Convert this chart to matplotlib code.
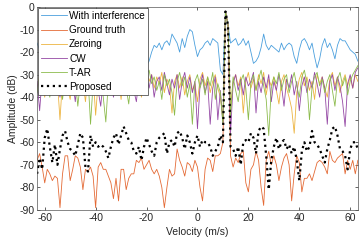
import numpy as np
import matplotlib
matplotlib.use('Agg')
import matplotlib.pyplot as plt

plt.rcParams['font.family'] = ['Liberation Sans', 'DejaVu Sans']
plt.rcParams['font.size'] = 7.5
plt.rcParams['axes.unicode_minus'] = False

# velocity bins (m/s)
velocity = np.arange(-63, 64)

# amplitude (dB) per method, one row = 10 bins
with_interference = [
    -16, -19, -22, -18, -15, -20, -24, -17, -14, -19,
    -21, -16, -18, -23, -15, -13, -19, -22, -17, -16,
    -20, -25, -18, -14, -17, -21, -19, -15, -18, -23,
    -16, -14, -20, -22, -17, -19, -15, -18, -24, -20,
    -16, -19, -23, -26, -24, -20, -17, -18, -16, -19,
    -16, -15, -17, -12, -14, -16, -20, -14, -18, -13,
    -10, -11, -17, -22, -19, -18, -16, -15, -17, -14,
    -15, -16, -28, -30, -2, -8, -16, -15, -14, -17,
    -16, -14, -17, -15, -20, -25, -24, -22, -18, -12,
    -17, -19, -17, -18, -19, -20, -16, -19, -17, -16,
    -17, -22, -25, -19, -15, -14, -16, -19, -16, -22,
    -27, -23, -17, -14, -18, -16, -19, -23, -17, -14,
    -15, -15, -17, -19, -20, -21, -24]
ground_truth = [
    -68, -65, -71, -78, -72, -74, -77, -75, -76, -89,
    -74, -66, -66, -77, -72, -66, -67, -71, -81, -72,
    -73, -71, -75, -89, -71, -69, -72, -72, -75, -78,
    -85, -76, -86, -72, -72, -81, -76, -74, -74, -68,
    -69, -67, -72, -70, -68, -72, -74, -72, -75, -80,
    -89, -80, -72, -75, -74, -63, -68, -71, -75, -69,
    -70, -73, -68, -71, -80, -86, -72, -67, -68, -73,
    -66, -66, -65, -60, -2, -8, -66, -71, -67, -69,
    -65, -64, -78, -82, -72, -70, -64, -68, -80, -88,
    -68, -64, -70, -66, -70, -77, -71, -67, -65, -70,
    -86, -74, -66, -69, -82, -76, -76, -74, -77, -73,
    -69, -68, -69, -71, -74, -64, -68, -69, -67, -66,
    -65, -74, -68, -72, -68, -74, -68]
zeroing = [
    -36, -30, -33, -40, -31, -35, -29, -38, -33, -50,
    -32, -30, -36, -41, -31, -34, -29, -37, -33, -42,
    -31, -35, -30, -48, -33, -29, -36, -31, -39, -33,
    -30, -37, -32, -41, -30, -34, -38, -31, -35, -29,
    -33, -40, -31, -28, -33, -30, -36, -31, -34, -29,
    -38, -32, -35, -47, -33, -30, -36, -31, -39, -33,
    -30, -37, -34, -42, -32, -29, -35, -31, -38, -33,
    -30, -36, -40, -50, -2, -8, -45, -33, -30, -35,
    -31, -47, -33, -29, -36, -32, -37, -30, -34, -29,
    -39, -32, -35, -31, -37, -43, -33, -30, -36, -40,
    -45, -56, -38, -32, -29, -35, -31, -37, -33, -41,
    -30, -34, -31, -36, -40, -32, -29, -35, -31, -38,
    -33, -30, -35, -31, -36, -30, -33]
cw = [
    -33, -46, -31, -35, -30, -37, -32, -29, -35, -40,
    -31, -34, -30, -38, -33, -42, -31, -36, -29, -33,
    -39, -31, -35, -30, -37, -44, -32, -30, -36, -31,
    -40, -33, -29, -35, -31, -38, -34, -30, -37, -42,
    -32, -29, -34, -31, -36, -30, -40, -33, -31, -37,
    -29, -34, -39, -32, -36, -30, -41, -33, -29, -36,
    -31, -38, -33, -54, -35, -30, -38, -33, -52, -36,
    -31, -50, -37, -52, -2, -8, -56, -34, -30, -37,
    -32, -39, -31, -35, -33, -29, -47, -33, -38, -31,
    -36, -30, -42, -33, -37, -30, -35, -44, -32, -36,
    -30, -39, -33, -46, -35, -31, -38, -32, -36, -29,
    -34, -40, -31, -36, -52, -33, -30, -37, -31, -35,
    -42, -53, -34, -30, -36, -29, -27]
t_ar = [
    -38, -31, -35, -29, -34, -40, -32, -36, -30, -33,
    -41, -31, -35, -30, -37, -32, -44, -33, -29, -36,
    -31, -52, -34, -30, -36, -32, -40, -51, -33, -29,
    -35, -31, -38, -33, -30, -36, -43, -32, -29, -35,
    -31, -37, -33, -30, -28, -34, -31, -37, -33, -41,
    -30, -35, -32, -38, -48, -33, -29, -35, -31, -40,
    -34, -52, -33, -30, -36, -32, -39, -31, -35, -29,
    -41, -34, -38, -52, -2, -8, -48, -31, -37, -42,
    -33, -30, -36, -50, -34, -30, -37, -32, -28, -35,
    -41, -57, -36, -31, -34, -29, -37, -32, -30, -38,
    -33, -29, -35, -40, -31, -28, -34, -50, -36, -31,
    -29, -35, -32, -38, -33, -30, -37, -44, -32, -29,
    -35, -31, -39, -33, -30, -28, -26]
proposed = [
    -74, -67, -72, -58, -54, -62, -69, -61, -70, -63,
    -57, -55, -60, -63, -64, -66, -61, -56, -58, -71,
    -73, -57, -62, -60, -62, -61, -62, -64, -67, -62,
    -58, -56, -61, -57, -53, -56, -59, -60, -64, -65,
    -62, -68, -62, -58, -61, -64, -66, -60, -58, -57,
    -56, -65, -60, -59, -62, -56, -55, -58, -63, -57,
    -60, -65, -60, -57, -62, -59, -60, -60, -62, -66,
    -64, -62, -57, -60, -2, -8, -62, -63, -66, -62,
    -70, -60, -59, -60, -56, -58, -65, -55, -53, -54,
    -66, -81, -68, -62, -58, -63, -60, -59, -63, -61,
    -65, -62, -68, -77, -64, -60, -64, -62, -55, -60,
    -61, -63, -66, -69, -63, -59, -54, -53, -57, -63,
    -64, -66, -72, -63, -60, -60, -63]

series = [
    ('With interference', with_interference, '#4A9FDD', '-', 0.6),
    ('Ground truth', ground_truth, '#E46A35', '-', 0.6),
    ('Zeroing', zeroing, '#EDB440', '-', 0.6),
    ('CW', cw, '#9447A4', '-', 0.6),
    ('T-AR', t_ar, '#8CBB4C', '-', 0.6),
    ('Proposed', proposed, 'black', ':', 1.6),
]

fig = plt.figure(figsize=(3.6, 2.41), dpi=100)
ax = fig.add_axes([0.103, 0.129, 0.891, 0.842])

for name, vals, col, ls, lw in series:
    ax.plot(velocity, vals, color=col, linestyle=ls, linewidth=lw, label=name)

ax.set_xlim(-63, 63)
ax.set_ylim(-90, 0)
ax.set_xticks(np.arange(-60, 61, 20))
ax.set_yticks(np.arange(-90, 1, 10))
ax.tick_params(direction='in', length=2.5, width=0.5, top=True, right=True,
               colors='#262626', labelsize=7.5, pad=2)
for sp in ax.spines.values():
    sp.set_linewidth(0.5)
    sp.set_color('#555555')

ax.set_xlabel('Velocity (m/s)', fontsize=7.5, labelpad=3, color='#262626')
ax.set_ylabel('Amplitude (dB)', fontsize=7.5, labelpad=1, color='#262626')

leg = ax.legend(loc='upper left', fontsize=7.2, frameon=True, fancybox=False,
                borderaxespad=0.1, handlelength=2.6, handletextpad=0.2,
                labelspacing=0.42, borderpad=0.3)
leg.get_frame().set_edgecolor('#333333')
leg.get_frame().set_linewidth(0.5)
leg.get_frame().set_alpha(1)

fig.savefig('out.png', dpi=100)
